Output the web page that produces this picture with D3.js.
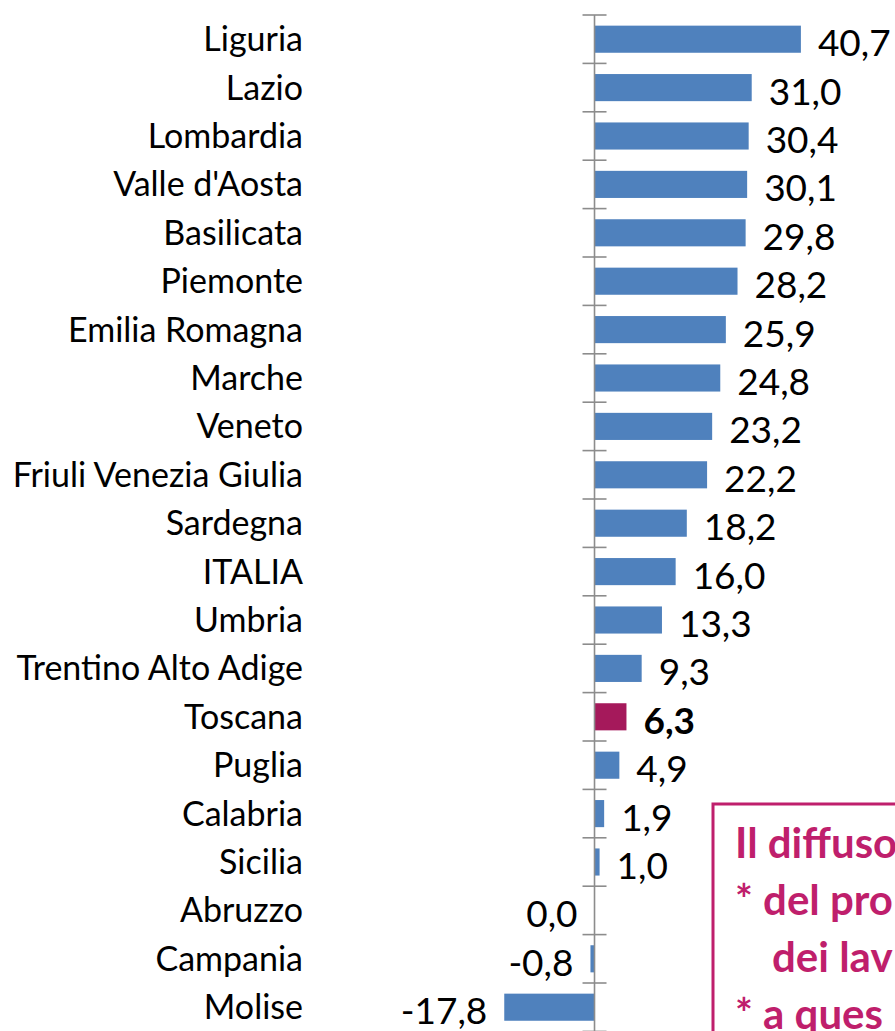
<!DOCTYPE html>
<html>
<head>
<meta charset="utf-8">
<script src="https://cdn.jsdelivr.net/npm/d3@7"></script>
<style>
  body { margin: 0; background: #fff; overflow: hidden; }
  text { font-family: Lato, "Noto Sans", sans-serif; }
</style>
</head>
<body>
<div id="chart"></div>
<script>
// regions, sorted as in the picture
var regions = ["Liguria", "Lazio", "Lombardia", "Valle d'Aosta", "Basilicata", "Piemonte",
  "Emilia Romagna", "Marche", "Veneto", "Friuli Venezia Giulia", "Sardegna", "ITALIA",
  "Umbria", "Trentino Alto Adige", "Toscana", "Puglia", "Calabria", "Sicilia",
  "Abruzzo", "Campania", "Molise"];
var values = [40.7, 31.0, 30.4, 30.1, 29.8, 28.2, 25.9, 24.8, 23.2, 22.2, 18.2, 16.0,
  13.3, 9.3, 6.3, 4.9, 1.9, 1.0, 0.0, -0.8, -17.8];
var highlight = "Toscana";
var noteLines = ["Il diffuso", "* del pro", "dei lav", "* a ques"];

var width = 895, height = 1031;
var blue = "#4f81bd", magenta = "#a5195b", pink = "#bf1f6c";

var svg = d3.select("#chart").append("svg")
  .attr("width", width)
  .attr("height", height);

var x = d3.scaleLinear()
  .domain([-20, 45])
  .range([493.1, 822.7]);

var y = d3.scaleBand()
  .domain(regions)
  .range([15, 15 + 48.4 * regions.length])
  .paddingInner(0.44)
  .paddingOuter(0.22);

var it = d3.formatLocale({decimal: ",", thousands: ".", grouping: [3], currency: ["", "€"], minus: "-"});
var fmt = it.format(".1f");

var data = regions.map(function(r, i) { return {name: r, value: values[i]}; });

// bars
svg.selectAll(".bar")
  .data(data)
  .enter().append("rect")
  .attr("class", "bar")
  .attr("x", function(d) { return x(Math.min(0, d.value)); })
  .attr("y", function(d) { return y(d.name); })
  .attr("width", function(d) { return Math.abs(x(d.value) - x(0)); })
  .attr("height", y.bandwidth())
  .attr("fill", function(d) { return d.name == highlight ? magenta : blue; });

// axis at zero with ticks between the bands
var x0 = x(0);
var axis = svg.append("g").attr("class", "axis");
axis.append("line")
  .attr("x1", x0).attr("x2", x0)
  .attr("y1", y.range()[0]).attr("y2", height)
  .attr("stroke", "#8c8c8c").attr("stroke-width", 1.6);
axis.selectAll(".tick")
  .data(d3.range(regions.length + 1))
  .enter().append("line")
  .attr("x1", x0 - 12).attr("x2", x0 + 12)
  .attr("y1", function(i) { return y.range()[0] + i * y.step(); })
  .attr("y2", function(i) { return y.range()[0] + i * y.step(); })
  .attr("stroke", "#8c8c8c").attr("stroke-width", 1.6);

// category labels
svg.selectAll(".cat")
  .data(data)
  .enter().append("text")
  .attr("class", "cat")
  .attr("x", 303)
  .attr("y", function(d) { return y(d.name) + y.bandwidth() / 2 + 12; })
  .attr("text-anchor", "end")
  .attr("font-size", "34px")
  .attr("fill", "#000")
  .text(function(d) { return d.name; });

// value labels
svg.selectAll(".val")
  .data(data)
  .enter().append("text")
  .attr("class", "val")
  .attr("x", function(d) { return d.value > 0 ? x(d.value) + 17 : x(d.value) - 17; })
  .attr("y", function(d) { return y(d.name) + y.bandwidth() / 2 + 17; })
  .attr("text-anchor", function(d) { return d.value > 0 ? "start" : "end"; })
  .attr("font-size", "37px")
  .attr("font-weight", function(d) { return d.name == highlight ? "bold" : "normal"; })
  .attr("fill", "#000")
  .text(function(d) { return fmt(d.value); });

// note box, cut by the edge of the picture
var note = svg.append("g").attr("class", "note");
note.append("rect")
  .attr("x", 713).attr("y", 804)
  .attr("width", 300).attr("height", 300)
  .attr("fill", "#fff")
  .attr("stroke", pink).attr("stroke-width", 3);
note.selectAll("text")
  .data(noteLines)
  .enter().append("text")
  .attr("x", function(d, i) { return i == 2 ? 772 : 735; })
  .attr("y", function(d, i) { return 858 + i * 57; })
  .attr("font-size", "42px")
  .attr("font-weight", "bold")
  .attr("fill", pink)
  .attr("xml:space", "preserve")
  .text(function(d) { return d; });
</script>
</body>
</html>
